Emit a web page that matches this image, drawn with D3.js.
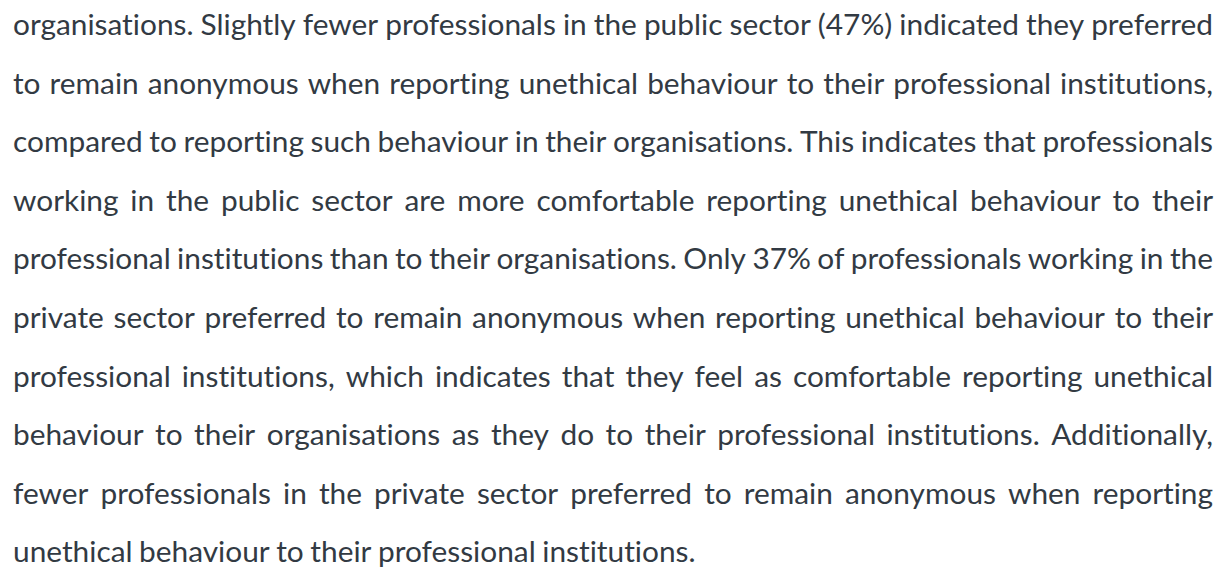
<!DOCTYPE html>
<html>
<head>
<meta charset="utf-8">
<script src="https://cdn.jsdelivr.net/npm/d3@7"></script>
<style>
  html, body { margin: 0; padding: 0; background: #ffffff; }
  text { font-variant-ligatures: none; font-feature-settings: "liga" 0, "clig" 0; }
</style>
</head>
<body>
<div id="page"></div>
<script>
// paragraph text, one entry per rendered line (justified except the last)
const lines = [
    'organisations. Slightly fewer professionals in the public sector (47%) indicated they preferred',
    'to remain anonymous when reporting unethical behaviour to their professional institutions,',
    'compared to reporting such behaviour in their organisations. This indicates that professionals',
    'working in the public sector are more comfortable reporting unethical behaviour to their',
    'professional institutions than to their organisations. Only 37% of professionals working in the',
    'private sector preferred to remain anonymous when reporting unethical behaviour to their',
    'professional institutions, which indicates that they feel as comfortable reporting unethical',
    'behaviour to their organisations as they do to their professional institutions. Additionally,',
    'fewer professionals in the private sector preferred to remain anonymous when reporting',
    'unethical behaviour to their professional institutions.'
];

document.addEventListener('DOMContentLoaded', function() {
    const width = 1227;
    const height = 570;
    const left = 13;
    const right = 1213;
    const lastLineEnd = 700;
    const firstBaseline = 35;
    const lineGap = 58.6;
    const fontFamily = 'Lato, "Open Sans", sans-serif';
    const color = '#323a43';

    const svg = d3.select('#page')
        .append('svg')
        .attr('width', width)
        .attr('height', height);

    // fit font size so the last (unjustified) line has the reference width
    const probe = svg.append('text')
        .attr('font-family', fontFamily)
        .attr('font-size', 100)
        .text(lines[lines.length - 1]);
    const probeW = probe.node().getComputedTextLength();
    probe.remove();
    const fontSize = 100 * (lastLineEnd - left) / probeW;

    const y = d3.scaleLinear()
        .domain([0, 1])
        .range([firstBaseline, firstBaseline + lineGap]);

    lines.forEach((line, i) => {
        const words = line.split(' ');
        const g = svg.append('g').attr('class', 'line');
        const texts = g.selectAll('text')
            .data(words)
            .enter().append('text')
            .attr('font-family', fontFamily)
            .attr('font-size', fontSize)
            .attr('fill', color)
            .attr('y', y(i))
            .text(d => d);

        const widths = [];
        texts.each(function() { widths.push(this.getComputedTextLength()); });
        const total = d3.sum(widths);
        const isLast = i === lines.length - 1;
        let space = fontSize * 0.22;
        let scale = 1;
        if (!isLast) {
            const avail = right - left;
            space = (avail - total) / (words.length - 1);
            const minSpace = fontSize * 0.12;
            if (space < minSpace) {
                space = minSpace;
                scale = (avail - minSpace * (words.length - 1)) / total;
            }
        }
        let x = left;
        texts.each(function(d, j) {
            const sel = d3.select(this).attr('x', x);
            if (scale !== 1) {
                sel.attr('textLength', widths[j] * scale)
                    .attr('lengthAdjust', 'spacingAndGlyphs');
            }
            x += widths[j] * scale + space;
        });
    });
});
</script>
</body>
</html>
